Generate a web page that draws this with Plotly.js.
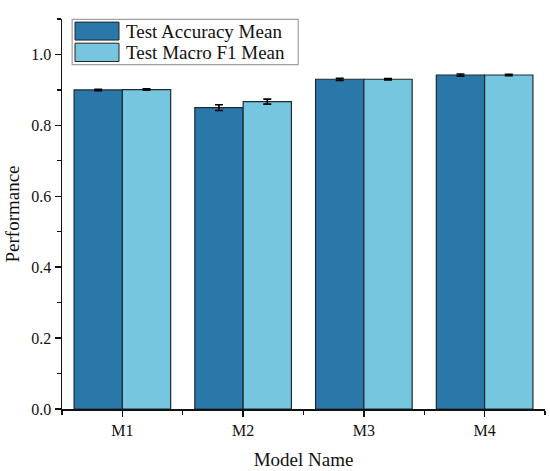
<!DOCTYPE html>
<html>
<head>
<meta charset="utf-8">
<script src="https://cdn.plot.ly/plotly-3.0.1.min.js"></script>
<style>
html,body{margin:0;padding:0;background:#fff}
#chart{width:550px;height:471px}
</style>
</head>
<body>
<div id="chart"></div>
<script>
const categories = ["M1", "M2", "M3", "M4"];
const seriesNames = ["Test Accuracy Mean", "Test Macro F1 Mean"];
const accMean = [0.900, 0.850, 0.930, 0.942];
const accErr = [0.002, 0.008, 0.003, 0.003];
const f1Mean = [0.901, 0.867, 0.930, 0.942];
const f1Err = [0.002, 0.007, 0.002, 0.002];
const yTickVals = [0, 0.2, 0.4, 0.6, 0.8, 1.0];
const yTickText = ["0.0", "0.2", "0.4", "0.6", "0.8", "1.0"];

const colors = ["#2a78a9", "#77c6df"];
const xIdx = categories.map((_, i) => i);
const font = "Liberation Serif";

function bar(name, y, err, color) {
  return {
    type: "bar", name: name, x: xIdx, y: y,
    marker: {color: color, line: {color: "#1e2a33", width: 1.2}},
    error_y: {type: "data", array: err, visible: true, color: "#000", thickness: 1.6, width: 4},
    showlegend: false
  };
}
const data = [
  bar(seriesNames[0], accMean, accErr, colors[0]),
  bar(seriesNames[1], f1Mean, f1Err, colors[1])
];

const shapes = [
  {type: "rect", xref: "paper", yref: "paper", x0: 0.021, x1: 0.489, y0: 0.883, y1: 0.999,
   line: {color: "#a0a0a0", width: 1.2}, fillcolor: "rgba(255,255,255,1)"},
  {type: "rect", xref: "paper", yref: "paper", x0: 0.027, x1: 0.118, y0: 0.946, y1: 0.992,
   line: {color: "#222", width: 1}, fillcolor: colors[0]},
  {type: "rect", xref: "paper", yref: "paper", x0: 0.027, x1: 0.118, y0: 0.891, y1: 0.938,
   line: {color: "#222", width: 1}, fillcolor: colors[1]}
];
const annotations = [
  {xref: "paper", yref: "paper", x: 0.128, y: 0.969, xanchor: "left", yanchor: "middle",
   text: seriesNames[0], showarrow: false, font: {family: font, size: 19, color: "#111"}},
  {xref: "paper", yref: "paper", x: 0.128, y: 0.914, xanchor: "left", yanchor: "middle",
   text: seriesNames[1], showarrow: false, font: {family: font, size: 19, color: "#111"}}
];

const tickFont = {family: font, size: 16, color: "#111"};
const axisCommon = {showline: true, linecolor: "#111", linewidth: 1.5, ticks: "outside", ticklen: 6,
  tickwidth: 1.5, tickcolor: "#111", showgrid: false, zeroline: false, tickfont: tickFont};

const layout = {
  width: 550, height: 471,
  margin: {l: 62, r: 5, t: 19, b: 62},
  barmode: "group", bargap: 0.2, bargroupgap: 0,
  font: {family: font, size: 16, color: "#111"},
  xaxis: Object.assign({}, axisCommon, {
    range: [-0.5, 3.5], tickmode: "array", tickvals: xIdx, ticktext: categories,
    minor: {ticks: "outside", ticklen: 4, tickwidth: 1.3, tickcolor: "#111", tick0: 0.5, dtick: 1, showgrid: false},
    title: {text: "Model Name", font: {family: font, size: 19, color: "#111"}, standoff: 15}
  }),
  yaxis: Object.assign({}, axisCommon, {
    range: [0, 1.1], tickmode: "array", tickvals: yTickVals, ticktext: yTickText,
    minor: {ticks: "outside", ticklen: 4, tickwidth: 1.3, tickcolor: "#111", tick0: 0.1, dtick: 0.2, showgrid: false},
    title: {text: "Performance", font: {family: font, size: 19, color: "#111"}, standoff: 6}
  }),
  shapes: shapes,
  annotations: annotations
};

function fixTicks() {
  document.querySelectorAll("#chart .xtick text, #chart .ytick text").forEach(t => {
    t.style.setProperty("font-family", "'Liberation Serif', serif", "important");
    t.style.setProperty("font-size", "16px", "important");
    t.style.setProperty("fill", "#111", "important");
  });
}
Plotly.newPlot("chart", data, layout, {staticPlot: true, displayModeBar: false}).then(gd => {
  fixTicks();
  setTimeout(fixTicks, 50);
  setTimeout(fixTicks, 300);
});
</script>
</body>
</html>
